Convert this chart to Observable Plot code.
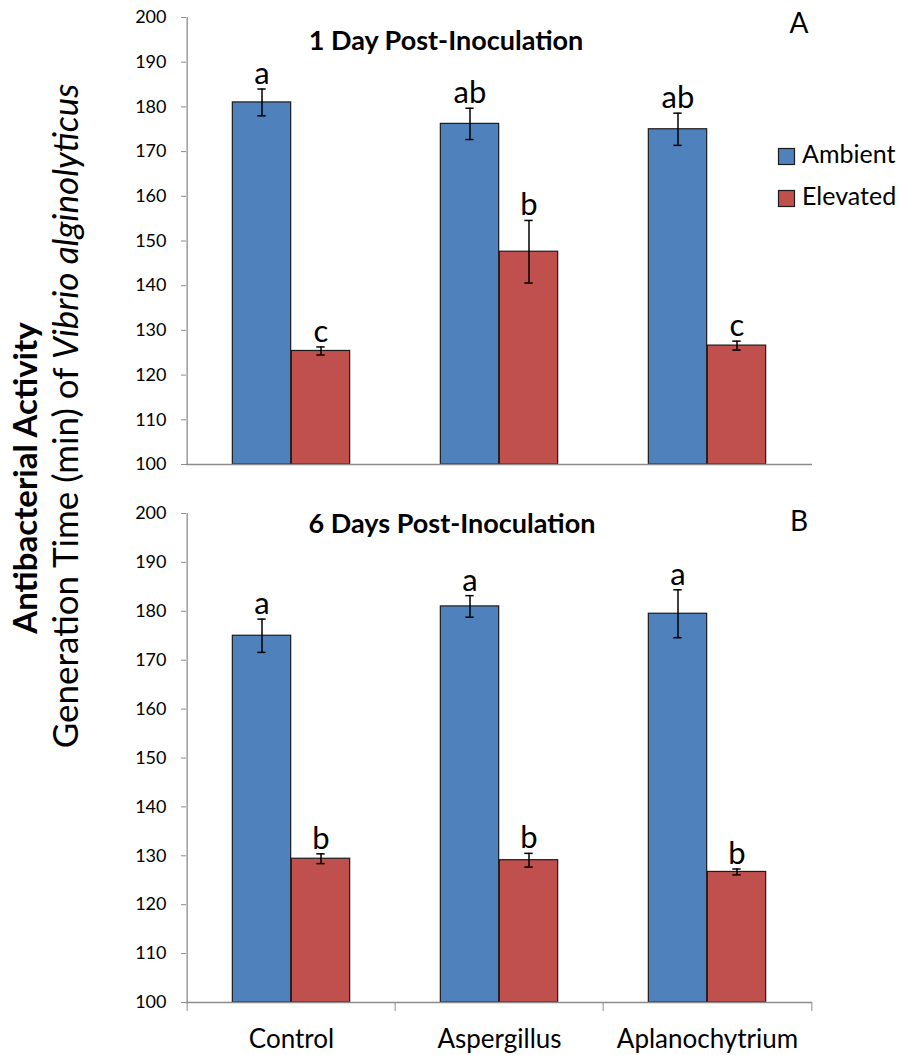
<!DOCTYPE html>
<html>
<head>
<meta charset="utf-8">
<script src="https://cdn.jsdelivr.net/npm/d3@7"></script>
<script src="https://cdn.jsdelivr.net/npm/@observablehq/plot@0.6"></script>
<style>
  body { margin: 0; background: #fff; }
  #chart { position: relative; width: 902px; height: 1055px; font-family: Lato, sans-serif; color: #000; }
  #chart > svg { position: absolute; left: 0; }
</style>
</head>
<body>
<div id="chart"></div>
<script>
// Categories and series
const categories = ["Control", "Aspergillus", "Aplanochytrium"];
const treatments = ["Ambient", "Elevated"];
const treatmentColors = ["#4F81BD", "#C0504D"];
const yTicks = [100, 110, 120, 130, 140, 150, 160, 170, 180, 190, 200];

// 1 day post-inoculation: mean generation time (min) and standard error
const day1Ambient = [181.0, 176.2, 175.0];
const day1AmbientErr = [3.0, 3.5, 3.6];
const day1Elevated = [125.4, 147.6, 126.6];
const day1ElevatedErr = [0.9, 7.0, 1.0];
const day1AmbientLetters = ["a", "ab", "ab"];
const day1ElevatedLetters = ["c", "b", "c"];

// 6 days post-inoculation
const day6Ambient = [175.0, 181.0, 179.5];
const day6AmbientErr = [3.4, 2.2, 4.9];
const day6Elevated = [129.4, 129.1, 126.7];
const day6ElevatedErr = [1.0, 1.4, 0.6];
const day6AmbientLetters = ["a", "a", "a"];
const day6ElevatedLetters = ["b", "b", "b"];

const chart = document.getElementById("chart");
const W = 902, left = 186, right = 812;
const bw = (right - left) / categories.length;
const barW = 59;
const pad = (bw - 2 * barW) / 2;
const capInset = (bw - 9) / 2;
const axisGray = "#8c8c8c";

function rowsFor(values, errs, letters) {
  return categories.map((c, i) => ({cat: c, v: values[i], e: errs[i], l: letters[i]}));
}

function panel({top, height, marginTop, marginBottom, amb, elev, showX}) {
  const series = [
    {rows: amb, fill: treatmentColors[0], insetLeft: pad, insetRight: bw - pad - barW, dx: -barW / 2},
    {rows: elev, fill: treatmentColors[1], insetLeft: pad + barW, insetRight: pad, dx: barW / 2}
  ];
  const marks = [];
  for (const s of series) {
    marks.push(
      Plot.barY(s.rows, {x: "cat", y1: 100, y2: "v", fill: s.fill, stroke: "#1b1b1b", strokeWidth: 1.2,
        insetLeft: s.insetLeft, insetRight: s.insetRight}),
      Plot.ruleX(s.rows, {x: "cat", y1: d => d.v - d.e, y2: d => d.v + d.e, dx: s.dx, stroke: "#000", strokeWidth: 1.5}),
      Plot.tickY(s.rows, {x: "cat", y: d => d.v + d.e, dx: s.dx, insetLeft: capInset, insetRight: capInset, stroke: "#000", strokeWidth: 1.5}),
      Plot.tickY(s.rows, {x: "cat", y: d => d.v - d.e, dx: s.dx, insetLeft: capInset, insetRight: capInset, stroke: "#000", strokeWidth: 1.5}),
      Plot.text(s.rows, {x: "cat", y: d => d.v + d.e, text: "l", dx: s.dx, dy: -5, lineAnchor: "bottom", fontSize: 31, fill: "#000"})
    );
  }
  marks.push(
    Plot.ruleY([100], {stroke: axisGray, strokeWidth: 1.3}),
    Plot.ruleX([categories[0]], {x: d => d, dx: -bw / 2, stroke: axisGray, strokeWidth: 1.3}),
    Plot.axisY({ticks: yTicks, tickSize: 5, tickPadding: 15, fontSize: 18, stroke: axisGray, fill: "#000",
      tickFormat: d => d, label: null})
  );
  if (showX) {
    marks.push(
      Plot.axisX({ticks: categories, tickSize: 9, tickFormat: () => "", dx: -bw / 2, stroke: axisGray, label: null}),
      Plot.axisX({ticks: [categories[categories.length - 1]], tickSize: 9, tickFormat: () => "", dx: bw / 2,
        stroke: axisGray, label: null}),
      Plot.axisX({ticks: categories, tickSize: 0, tickPadding: 27, fontSize: 26, fill: "#000", label: null})
    );
  }
  const svg = Plot.plot({
    width: W, height, marginTop, marginBottom, marginLeft: left, marginRight: W - right,
    style: {fontFamily: "Lato, sans-serif", background: "transparent", overflow: "visible"},
    x: {type: "band", domain: categories, padding: 0, label: null, axis: showX ? undefined : null},
    y: {domain: [100, 200], label: null},
    marks
  });
  svg.style.top = top + "px";
  chart.appendChild(svg);
}

panel({top: 0, height: 480, marginTop: 17, marginBottom: 16,
  amb: rowsFor(day1Ambient, day1AmbientErr, day1AmbientLetters),
  elev: rowsFor(day1Elevated, day1ElevatedErr, day1ElevatedLetters), showX: false});
panel({top: 497, height: 558, marginTop: 16, marginBottom: 53,
  amb: rowsFor(day6Ambient, day6AmbientErr, day6AmbientLetters),
  elev: rowsFor(day6Elevated, day6ElevatedErr, day6ElevatedLetters), showX: true});

// Titles, panel letters, legend and y-axis titles
const overlay = d3.create("svg").attr("width", W).attr("height", 1055)
  .style("top", "0px").style("pointer-events", "none")
  .style("font-family", "Lato, sans-serif");

overlay.append("text").attr("x", 446).attr("y", 50).attr("text-anchor", "middle")
  .attr("font-size", 27).attr("font-weight", "bold").text("1 Day Post-Inoculation");
overlay.append("text").attr("x", 452).attr("y", 533).attr("text-anchor", "middle")
  .attr("font-size", 27).attr("font-weight", "bold").text("6 Days Post-Inoculation");
overlay.append("text").attr("x", 799).attr("y", 33).attr("text-anchor", "middle")
  .attr("font-size", 28).text("A");
overlay.append("text").attr("x", 799).attr("y", 531).attr("text-anchor", "middle")
  .attr("font-size", 28).text("B");

treatments.forEach((t, i) => {
  const y0 = 148 + i * 42;
  overlay.append("rect").attr("x", 778.5).attr("y", y0 + 0.5).attr("width", 16).attr("height", 16)
    .attr("fill", treatmentColors[i]).attr("stroke", "#1b1b1b").attr("stroke-width", 1.2);
  overlay.append("text").attr("x", 802).attr("y", y0 + 15).attr("font-size", 25).text(t);
});

overlay.append("text").attr("transform", "translate(37,478) rotate(-90)").attr("text-anchor", "middle")
  .attr("font-size", 33).attr("font-weight", "bold").text("Antibacterial Activity");
const sub = overlay.append("text").attr("transform", "translate(78,416) rotate(-90)").attr("text-anchor", "middle")
  .attr("font-size", 35);
sub.append("tspan").text("Generation Time (min) of ");
sub.append("tspan").attr("font-style", "italic").text("Vibrio alginolyticus");

chart.appendChild(overlay.node());
</script>
</body>
</html>
